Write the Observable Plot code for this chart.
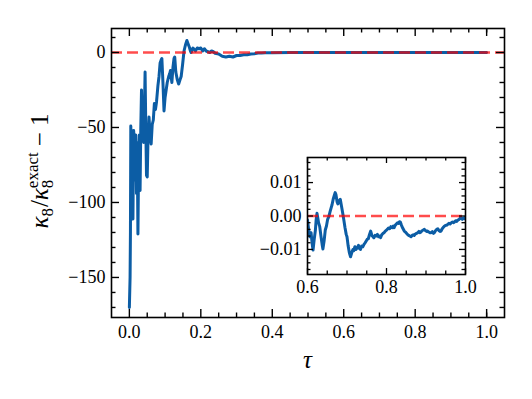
<!DOCTYPE html>
<html><head><meta charset="utf-8">
<script src="https://cdn.jsdelivr.net/npm/d3@7"></script>
<script src="https://cdn.jsdelivr.net/npm/@observablehq/plot@0.6"></script>
<style>
body{margin:0;background:#fff}
#wrap{position:relative;width:532px;height:399px;overflow:hidden}
#wrap svg{position:absolute}
</style></head><body><div id="wrap"></div>
<script>
// early, strongly fluctuating part of kappa_8 / kappa_8^exact - 1
const earlyTau = [0.000,0.002,0.003,0.004,0.006,0.008,0.010,0.012,0.014,0.016,0.018,0.020,0.022,0.024,0.026,0.028,0.030,0.032,0.034,0.036,0.038,0.040,0.042,0.044,0.046,0.048,0.050,0.052,0.055,0.058,0.061,0.064,0.067,0.070,0.073,0.076,0.080,0.083,0.086,0.089,0.091,0.094,0.097,0.100,0.103,0.106,0.110,0.113,0.115,0.119,0.122,0.125,0.127,0.130,0.134,0.138,0.142,0.145,0.149,0.153,0.157,0.161,0.164,0.168,0.171,0.173,0.176,0.178,0.182,0.185,0.190,0.195,0.200,0.205,0.210,0.215,0.220,0.225,0.230,0.235,0.240,0.250,0.260,0.270,0.280,0.290,0.300,0.310,0.320,0.330,0.340,0.350,0.360,0.370,0.380,0.400,0.450,0.500,0.550,0.580];
const earlyRatio = [-170,-150,-120,-49,-70,-100,-111,-52,-60,-85,-55,-94,-60,-121,-70,-55,-92,-50,-25,-45,-30,-60,-40,-13,-50,-82,-83,-60,-43,-55,-61,-48,-45,-34,-38,-33,-22,-16,-7,-5,-4,-20,-39,-30,-25,-20,-16,-14,-12,-20,-10,-4,-3,-13,-18,-21,-18,-16,-8,1,5,8,6,3.5,1,0,2,3,2,1,3,2.5,3,1,2.5,1,0.5,0,1,0.5,-0.5,-1,-2.5,-3,-2.5,-3,-2,-2,-1.5,-1.5,-1,-0.8,-0.4,-0.3,-0.2,-0.1,-0.05,-0.03,-0.02,-0.01];
// late part, shown in the inset
const lateTau = [0.600,0.603,0.606,0.609,0.612,0.614,0.617,0.620,0.622,0.624,0.626,0.628,0.631,0.634,0.637,0.639,0.642,0.645,0.648,0.651,0.654,0.657,0.660,0.662,0.665,0.668,0.670,0.672,0.675,0.677,0.680,0.683,0.686,0.689,0.692,0.695,0.698,0.700,0.703,0.706,0.709,0.712,0.715,0.717,0.720,0.723,0.726,0.729,0.732,0.734,0.737,0.740,0.743,0.746,0.749,0.751,0.754,0.757,0.760,0.763,0.766,0.768,0.771,0.774,0.777,0.780,0.783,0.785,0.788,0.791,0.794,0.797,0.800,0.802,0.805,0.808,0.811,0.814,0.817,0.819,0.822,0.825,0.828,0.831,0.833,0.835,0.838,0.841,0.845,0.848,0.851,0.853,0.856,0.859,0.862,0.865,0.868,0.870,0.873,0.876,0.879,0.882,0.885,0.887,0.890,0.893,0.896,0.899,0.902,0.904,0.907,0.910,0.913,0.916,0.919,0.921,0.924,0.927,0.930,0.933,0.936,0.938,0.941,0.944,0.947,0.950,0.953,0.955,0.958,0.961,0.964,0.967,0.970,0.972,0.975,0.978,0.981,0.984,0.987,0.989,0.992,0.995,0.998,1.000];
const lateRatio = [-0.0012,-0.0040,-0.0062,-0.0050,-0.0085,-0.0102,-0.0070,-0.0042,-0.0010,0.0008,-0.0005,-0.0020,-0.0032,-0.0060,-0.0085,-0.0099,-0.0075,-0.0042,-0.0030,-0.0010,-0.0002,0.0012,0.0025,0.0033,0.0050,0.0062,0.0070,0.0064,0.0042,0.0036,0.0046,0.0050,0.0030,0.0010,-0.0012,-0.0035,-0.0055,-0.0062,-0.0090,-0.0110,-0.0122,-0.0110,-0.0100,-0.0104,-0.0092,-0.0100,-0.0095,-0.0088,-0.0098,-0.0100,-0.0090,-0.0092,-0.0085,-0.0080,-0.0074,-0.0070,-0.0068,-0.0055,-0.0045,-0.0058,-0.0062,-0.0065,-0.0058,-0.0060,-0.0055,-0.0062,-0.0060,-0.0065,-0.0056,-0.0052,-0.0050,-0.0045,-0.0042,-0.0040,-0.0036,-0.0038,-0.0032,-0.0035,-0.0030,-0.0035,-0.0028,-0.0024,-0.0020,-0.0022,-0.0017,-0.0018,-0.0028,-0.0036,-0.0045,-0.0048,-0.0052,-0.0055,-0.0058,-0.0060,-0.0062,-0.0058,-0.0056,-0.0058,-0.0054,-0.0052,-0.0050,-0.0046,-0.0050,-0.0048,-0.0044,-0.0042,-0.0040,-0.0044,-0.0046,-0.0045,-0.0048,-0.0050,-0.0050,-0.0047,-0.0052,-0.0050,-0.0044,-0.0040,-0.0038,-0.0044,-0.0046,-0.0045,-0.0038,-0.0034,-0.0030,-0.0028,-0.0027,-0.0025,-0.0022,-0.0024,-0.0020,-0.0018,-0.0020,-0.0018,-0.0014,-0.0016,-0.0012,-0.0010,-0.0006,-0.0005,-0.0010,-0.0006,-0.0008,-0.0004];

const xTicks = [0, 0.2, 0.4, 0.6, 0.8, 1.0];
const xMinor = [0.05,0.1,0.15,0.25,0.3,0.35,0.45,0.5,0.55,0.65,0.7,0.75,0.85,0.9,0.95,1.0];
const yTicks = [0, -50, -100, -150];
const yMinor = [10,-10,-20,-30,-40,-60,-70,-80,-90,-110,-120,-130,-140,-160,-170];
const insetXTicks = [0.6, 0.8, 1.0];
const insetXMinor = [0.65,0.7,0.75,0.85,0.9,0.95];
const insetYTicks = [-0.01, 0, 0.01];
const insetYMinor = [-0.016,-0.014,-0.012,-0.008,-0.006,-0.004,-0.002,0.002,0.004,0.006,0.008,0.012,0.014,0.016];

const allTau = earlyTau.concat(lateTau);
const allRatio = earlyRatio.concat(lateRatio);
const series = allTau.map((t, i) => ({t, v: allRatio[i]}));
const lateSeries = lateTau.map((t, i) => ({t, v: lateRatio[i]}));

const FONT = "Liberation Serif";
const BLUE = "#0C5DA5";
const wrap = document.getElementById("wrap");

function inwardTicks(fw, fh, xMaj, xMin, yMaj, yMin, maj, mnr, sw) {
  const o = {stroke: "black", strokeWidth: sw};
  return [
    Plot.tickX(xMaj, {x: d => d, insetTop: fh - maj, ...o}),
    Plot.tickX(xMaj, {x: d => d, insetBottom: fh - maj, ...o}),
    Plot.tickX(xMin, {x: d => d, insetTop: fh - mnr, ...o}),
    Plot.tickX(xMin, {x: d => d, insetBottom: fh - mnr, ...o}),
    Plot.tickY(yMaj, {y: d => d, insetRight: fw - maj, ...o}),
    Plot.tickY(yMaj, {y: d => d, insetLeft: fw - maj, ...o}),
    Plot.tickY(yMin, {y: d => d, insetRight: fw - mnr, ...o}),
    Plot.tickY(yMin, {y: d => d, insetLeft: fw - mnr, ...o})
  ];
}

// main chart
const W = 532, H = 399, mL = 111, mR = 28, mT = 28, mB = 82;
const fw = W - mL - mR, fh = H - mT - mB;
const main = Plot.plot({
  width: W, height: H,
  marginLeft: mL, marginRight: mR, marginTop: mT, marginBottom: mB,
  x: {domain: [-0.05, 1.05], label: null},
  y: {domain: [-176.7, 16], label: null},
  style: {fontFamily: FONT, fontSize: "18px", background: "transparent", color: "black"},
  marks: [
    Plot.line(series, {x: "t", y: "v", stroke: BLUE, strokeWidth: 3, clip: true}),
    Plot.ruleY([0], {stroke: "red", strokeOpacity: 0.7, strokeWidth: 2.4, strokeDasharray: "11,5"}),
    ...inwardTicks(fw, fh, xTicks, xMinor, yTicks, yMinor, 8, 4.5, 1.4),
    Plot.frame({stroke: "black", strokeWidth: 1.6}),
    Plot.axisX({ticks: xTicks, tickSize: 0, tickPadding: 8, tickFormat: d3.format(".1f"), label: null, fontSize: 18}),
    Plot.axisY({ticks: yTicks, tickSize: 0, tickPadding: 6, tickFormat: d3.format("d"), label: null, fontSize: 18})
  ]
});
main.style.left = "0px"; main.style.top = "0px";
wrap.appendChild(main);

const ms = d3.select(main);
// y label
const yl = ms.append("text")
  .attr("transform", "translate(48,171) rotate(-90)")
  .attr("text-anchor", "middle")
  .attr("font-family", FONT).attr("font-size", 25).attr("fill", "black");
yl.append("tspan").attr("font-style", "italic").text("κ");
yl.append("tspan").attr("font-size", 17).attr("dy", 5).text("8");
yl.append("tspan").attr("dy", -5).attr("dx", 1).text("/");
yl.append("tspan").attr("font-style", "italic").text("κ");
yl.append("tspan").attr("font-size", 17).attr("dy", 5).text("8");
yl.append("tspan").attr("font-size", 17).attr("dx", -8.5).attr("dy", -15).text("exact");
yl.append("tspan").attr("dy", 10).attr("dx", 6).text("− 1");
// x label
ms.append("text")
  .attr("x", mL + fw * (0.55 / 1.1)).attr("y", 368)
  .attr("text-anchor", "middle")
  .attr("font-family", FONT).attr("font-size", 25).attr("font-style", "italic").attr("fill", "black")
  .text("τ");

// inset chart
const iL = 62, iR = 18, iT = 5, iB = 32;
const ifw = 158, ifh = 117;
const inset = Plot.plot({
  width: iL + ifw + iR, height: iT + ifh + iB,
  marginLeft: iL, marginRight: iR, marginTop: iT, marginBottom: iB,
  x: {domain: [0.6, 1.0], label: null},
  y: {domain: [-0.0175, 0.0175], label: null},
  style: {fontFamily: FONT, fontSize: "18px", background: "transparent", color: "black", overflow: "visible"},
  marks: [
    Plot.frame({fill: "white", stroke: null}),
    Plot.line(lateSeries, {x: "t", y: "v", stroke: BLUE, strokeWidth: 3, clip: true}),
    Plot.ruleY([0], {stroke: "red", strokeOpacity: 0.7, strokeWidth: 2.4, strokeDasharray: "11,5"}),
    ...inwardTicks(ifw, ifh, insetXTicks, insetXMinor, insetYTicks, insetYMinor, 6, 3.5, 1.3),
    Plot.frame({stroke: "black", strokeWidth: 1.6}),
    Plot.axisX({ticks: insetXTicks, tickSize: 0, tickPadding: 6, tickFormat: d3.format(".1f"), label: null, fontSize: 18}),
    Plot.axisY({ticks: insetYTicks, tickSize: 0, tickPadding: 6, tickFormat: d3.format(".2f"), label: null, fontSize: 18})
  ]
});
inset.style.left = (307 - iL) + "px";
inset.style.top = (157 - iT) + "px";
wrap.appendChild(inset);
</script>
</body></html>
